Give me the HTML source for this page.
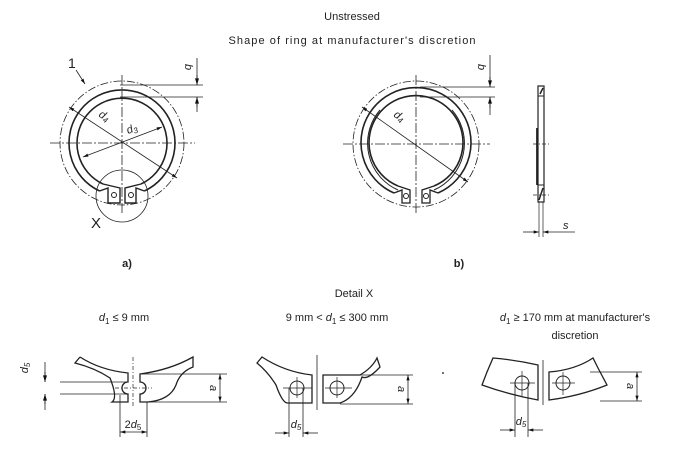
<!DOCTYPE html>
<html><head><meta charset="utf-8"><style>
html,body{margin:0;padding:0;background:#fff;}
svg{display:block;font-family:"Liberation Sans",sans-serif;}
</style></head><body>
<svg width="695" height="457" viewBox="0 0 695 457" xmlns="http://www.w3.org/2000/svg">
<defs>
<marker id="a" viewBox="0 0 10 6" refX="10" refY="3" markerWidth="7" markerHeight="4" orient="auto-start-reverse"><path d="M0,0L10,3L0,6z" fill="#111"/></marker>
</defs>
<g fill="#222" font-size="11">
<text x="352" y="20" text-anchor="middle">Unstressed</text>
<text x="352" y="44" text-anchor="middle" textLength="247">Shape of ring at manufacturer's discretion</text>
<text x="127" y="267" text-anchor="middle" font-weight="bold">a)</text>
<text x="459" y="267" text-anchor="middle" font-weight="bold">b)</text>
<text x="354" y="297" text-anchor="middle">Detail X</text>
<text x="124" y="321" text-anchor="middle"><tspan font-style="italic">d</tspan><tspan font-size="8" dy="3">1</tspan><tspan dy="-3"> ≤ 9 mm</tspan></text>
<text x="337" y="321" text-anchor="middle">9 mm &lt; <tspan font-style="italic">d</tspan><tspan font-size="8" dy="3">1</tspan><tspan dy="-3"> ≤ 300 mm</tspan></text>
<text x="575" y="321" text-anchor="middle"><tspan font-style="italic">d</tspan><tspan font-size="8" dy="3">1</tspan><tspan dy="-3"> ≥  170 mm at manufacturer's</tspan></text>
<text x="575" y="339" text-anchor="middle">discretion</text>
</g>
<g fill="none" stroke="#222" stroke-width="1">
<circle cx="122" cy="143" r="62" stroke-dasharray="8 2 1.5 2" stroke-width="0.8"/>
<path d="M50,143H195M122,75V215" stroke-dasharray="10 2 2 2" stroke-width="0.8"/>
<path d="M99.6,191A53,53 0 1 1 144.4,191" stroke-width="1.6"/>
<path d="M103,184A45,45 0 1 1 141,184" stroke-width="1.6"/>
<path d="M99.6,191L108,188V203H120V188L103,184M144.4,191L136,188V203H125V188L141,184" stroke-width="1.4"/>
<circle cx="114" cy="195" r="2.5"/><circle cx="131" cy="195" r="2.5"/>
<circle cx="122" cy="196" r="26" stroke-width="0.8"/>
<path d="M69,107L177,178" marker-start="url(#a)" marker-end="url(#a)" stroke-width="0.8"/>
<path d="M83,157L162,127" marker-start="url(#a)" marker-end="url(#a)" stroke-width="0.8"/>
<path d="M120,85H203M120,97H203" stroke-width="0.8"/>
<path d="M197,58V85M197,97V112" stroke-width="0.8"/>
<path d="M197,75V85" marker-end="url(#a)"/><path d="M197,107V97" marker-end="url(#a)"/>
<path d="M85,84L76,70" marker-start="url(#a)" stroke-width="0.8"/>
<circle cx="416" cy="144" r="63" stroke-dasharray="8 2 1.5 2" stroke-width="0.8"/>
<path d="M343,144H490M416,75V215" stroke-dasharray="10 2 2 2" stroke-width="0.8"/>
<path d="M394,193A55,55 0 1 1 438,193" stroke-width="1.6"/>
<path d="M398,186A47,47 0 1 1 434,186" stroke-width="1.6"/>
<path d="M380,110A51,51 0 0 0 398,190M452,110A51,51 0 0 1 434,190" stroke-width="1"/>
<path d="M394,193L402,190V203H410V190L398,186M438,193L430,190V203H422V190L434,186" stroke-width="1.3"/>
<circle cx="406" cy="196" r="2.5"/><circle cx="426" cy="196" r="2.5"/>
<path d="M362,107L468,182" marker-start="url(#a)" marker-end="url(#a)" stroke-width="0.8"/>
<path d="M420,87H495M420,97H495" stroke-width="0.8"/>
<path d="M490,55V87M490,97V115" stroke-width="0.8"/>
<path d="M490,77V87" marker-end="url(#a)"/><path d="M490,108V97" marker-end="url(#a)"/>
<rect x="538" y="86" width="6" height="116" stroke-width="1.2"/>
<path d="M538,96H544M538,185H544" />
<path d="M540,94L543,88M539,200L543,188" stroke-width="1.5"/>
<path d="M537,128V185" stroke-width="1.8"/>
<path d="M533,144H549M533,195H549" stroke-dasharray="4 2 1 2" stroke-width="0.8"/>
<path d="M539,202V237M543,202V237" stroke-width="0.7"/>
<path d="M523,232H539" marker-end="url(#a)" stroke-width="0.8"/>
<path d="M575,232H543" marker-end="url(#a)" stroke-width="0.8"/>
<path d="M80,357L75,363Q95,368 110,378Q118,398 112,402H128V394A6,6 0 0 1 128,382V373Q100,370 80,357" stroke-width="1.3"/>
<path d="M193,357Q170,370 140,374V382A6,6 0 0 1 140,394V402H148Q170,400 176,385Q180,372 193,367Z" stroke-width="1.3"/>
<path d="M60,382H128M60,394H128M140,374H227M148,402H227" stroke-width="0.8"/>
<path d="M45,362V382M45,394V410" stroke-width="0.8"/>
<path d="M45,372V382" marker-end="url(#a)"/><path d="M45,404V394" marker-end="url(#a)"/>
<path d="M220,374V402" marker-start="url(#a)" marker-end="url(#a)" stroke-width="0.8"/>
<path d="M133,357V407M115,388H152" stroke-dasharray="4 2 1 2" stroke-width="0.7"/>
<path d="M120,395V437M147,402V437" stroke-width="0.8"/>
<path d="M120,432H147" marker-start="url(#a)" marker-end="url(#a)" stroke-width="0.8"/>
<path d="M262,357L257,363Q268,372 276,385Q282,402 287,403H312V375Q285,372 262,357Z" stroke-width="1.3"/>
<circle cx="297" cy="388" r="7"/><path d="M283,388H312M297,377V398" stroke-width="0.7"/>
<path d="M317,355V410" stroke-width="0.8"/>
<path d="M323,375H360Q372,368 377,358L380,367Q368,380 362,377Q355,398 340,403H323Z" stroke-width="1.3"/>
<circle cx="337" cy="388" r="7"/><path d="M325,388H352M337,377V398" stroke-width="0.7"/>
<path d="M360,375H413M340,404H413" stroke-width="0.8"/>
<path d="M408,375V404" marker-start="url(#a)" marker-end="url(#a)" stroke-width="0.8"/>
<path d="M289,388V437M303,388V437" stroke-width="0.8"/>
<path d="M275,433H289" marker-end="url(#a)" stroke-width="0.8"/><path d="M318,433H303" marker-end="url(#a)" stroke-width="0.8"/>
<path d="M493,358Q516,360 538,365V400Q510,395 482,385L487,372Z" stroke-width="1.3"/>
<circle cx="522" cy="383" r="7"/><path d="M510,383H535M522,371V396" stroke-width="0.7"/>
<path d="M543,360V405" stroke-width="0.8"/>
<path d="M549,372Q575,370 593,358L598,368L607,385Q580,396 549,400Z" stroke-width="1.3"/>
<circle cx="563" cy="383" r="7"/><path d="M552,383H575M563,372V395" stroke-width="0.7"/>
<path d="M590,372H642M600,401H642" stroke-width="0.8"/>
<path d="M637,372V401" marker-start="url(#a)" marker-end="url(#a)" stroke-width="0.8"/>
<path d="M515,383V437M528,383V437" stroke-width="0.8"/>
<path d="M500,430H515" marker-end="url(#a)" stroke-width="0.8"/><path d="M543,430H528" marker-end="url(#a)" stroke-width="0.8"/>
</g>
<circle cx="443" cy="373" r="1" fill="#444"/>
<g fill="#222" font-style="italic" font-size="11">
<text x="68" y="68" font-style="normal" font-size="14">1</text>
<text x="91" y="228" font-style="normal" font-size="15">X</text>
<text transform="translate(98,116) rotate(33)">d<tspan font-size="8" dy="2">4</tspan></text>
<text transform="translate(128,134) rotate(-20)">d<tspan font-size="8" dy="2">3</tspan></text>
<text transform="translate(393,116) rotate(35)">d<tspan font-size="8" dy="2">4</tspan></text>
<text transform="translate(185,64) rotate(90)">b</text>
<text transform="translate(478,64) rotate(90)">b</text>
<text x="563" y="229">s</text>
<text transform="translate(28,368) rotate(-90)" text-anchor="middle">d<tspan font-size="8" dy="2">5</tspan></text>
<text transform="translate(210,388) rotate(90)" text-anchor="middle">a</text>
<text x="133" y="428" text-anchor="middle" font-style="normal">2<tspan font-style="italic">d</tspan><tspan font-size="8" dy="2">5</tspan></text>
<text transform="translate(398,389) rotate(90)" text-anchor="middle">a</text>
<text x="296" y="428" text-anchor="middle">d<tspan font-size="8" dy="2">5</tspan></text>
<text transform="translate(627,386) rotate(90)" text-anchor="middle">a</text>
<text x="521" y="425" text-anchor="middle">d<tspan font-size="8" dy="2">5</tspan></text>
</g>
</svg>
</body></html>
